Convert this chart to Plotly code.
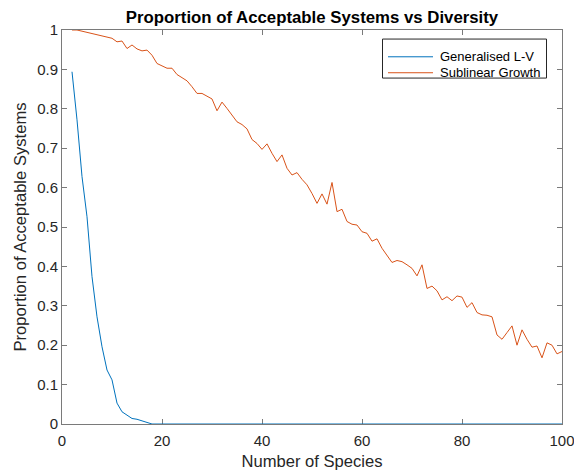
import plotly.graph_objects as go

species = list(range(2, 101))

generalised_lv = [0.894, 0.772, 0.628, 0.526, 0.374, 0.272, 0.196, 0.137, 0.112, 0.053,
                  0.031, 0.023, 0.014, 0.012, 0.008, 0.003] + [0.0] * (len(species) - 16)

sublinear = [1.000, 1.000, 0.997, 0.994, 0.991, 0.989, 0.985, 0.982, 0.979, 0.970,
             0.972, 0.953, 0.962, 0.952, 0.947, 0.949, 0.936, 0.915, 0.910, 0.903,
             0.903, 0.887, 0.879, 0.871, 0.856, 0.839, 0.839, 0.833, 0.825, 0.795,
             0.817, 0.801, 0.784, 0.767, 0.760, 0.749, 0.722, 0.712, 0.697, 0.711,
             0.687, 0.666, 0.683, 0.649, 0.632, 0.638, 0.621, 0.607, 0.585, 0.560,
             0.584, 0.558, 0.613, 0.539, 0.545, 0.514, 0.507, 0.505, 0.488, 0.484,
             0.464, 0.470, 0.446, 0.429, 0.410, 0.415, 0.412, 0.404, 0.395, 0.376,
             0.404, 0.344, 0.350, 0.338, 0.315, 0.323, 0.313, 0.325, 0.322, 0.296,
             0.308, 0.283, 0.277, 0.276, 0.272, 0.226, 0.215, 0.232, 0.249, 0.200,
             0.239, 0.215, 0.195, 0.198, 0.168, 0.206, 0.200, 0.178, 0.184]

series_names = ["Generalised L-V", "Sublinear Growth"]
series_colors = ["#0072BD", "#D95319"]

x_ticks = [0, 20, 40, 60, 80, 100]
y_ticks = [0, 0.1, 0.2, 0.3, 0.4, 0.5, 0.6, 0.7, 0.8, 0.9, 1]
y_tick_labels = ["0", "0.1", "0.2", "0.3", "0.4", "0.5", "0.6", "0.7", "0.8", "0.9", "1"]

fig = go.Figure()
for name, vals, col in zip(series_names, [generalised_lv, sublinear], series_colors):
    fig.add_trace(go.Scatter(x=species, y=vals, mode="lines", name=name,
                             line=dict(color=col, width=1), cliponaxis=False,
                             showlegend=False))

font_family = "Liberation Sans, Arial, sans-serif"
axis_common = dict(showline=True, linecolor="#7a7a7a", linewidth=1, mirror="ticks",
                   ticks="inside", ticklen=5, tickcolor="#7a7a7a", tickwidth=1,
                   showgrid=False, zeroline=False, automargin=False,
                   layer="below traces", ticklabeloverflow="allow")

# Legend drawn as box + sample lines + labels (paper coordinates)
leg_x0, leg_x1, leg_y0, leg_y1 = 0.641, 0.969, 0.878, 0.977
line_x0, line_x1, text_x = 0.652, 0.742, 0.752
row_y = [0.932, 0.8915]
shapes = [dict(type="rect", xref="paper", yref="paper", x0=leg_x0, x1=leg_x1,
               y0=leg_y0, y1=leg_y1, line=dict(color="#262626", width=1),
               fillcolor="white", layer="above")]
annotations = []
for name, col, ry in zip(series_names, series_colors, row_y):
    shapes.append(dict(type="line", xref="paper", yref="paper", x0=line_x0, x1=line_x1,
                       y0=ry, y1=ry, line=dict(color=col, width=1), layer="above"))
    annotations.append(dict(xref="paper", yref="paper", x=text_x, y=ry, text=name,
                            showarrow=False, xanchor="left", yanchor="middle",
                            font=dict(family=font_family, size=13, color="#000000")))

fig_w, fig_h = 574, 472

fig.update_layout(
    width=fig_w, height=fig_h,
    margin=dict(l=62, r=12, t=30, b=48),
    paper_bgcolor="white", plot_bgcolor="white",
    font=dict(family=font_family, color="#262626"),
    title=dict(text="<b>Proportion of Acceptable Systems vs Diversity</b>",
               x=0.5, xref="paper", xanchor="center", y=1 - 17.5 / fig_h, yanchor="middle",
               font=dict(family=font_family, size=16.8, color="#000000")),
    xaxis=dict(range=[0, 100], tickvals=x_ticks, ticklabelstandoff=3,
               tickfont=dict(family=font_family, size=15, color="#262626"),
               title=dict(text="Number of Species", standoff=7,
                          font=dict(family=font_family, size=16.6, color="#262626")),
               **axis_common),
    yaxis=dict(range=[0, 1], tickvals=y_ticks, ticktext=y_tick_labels,
               tickfont=dict(family=font_family, size=15, color="#262626"),
               title=dict(text="Proportion of Acceptable Systems", standoff=6,
                          font=dict(family=font_family, size=16.6, color="#262626")),
               **axis_common),
    shapes=shapes,
    annotations=annotations,
    showlegend=False,
)

fig.write_html("out.html",
               config={"displayModeBar": False},
               post_script="document.body.style.margin='0';document.body.style.overflow='hidden';")
